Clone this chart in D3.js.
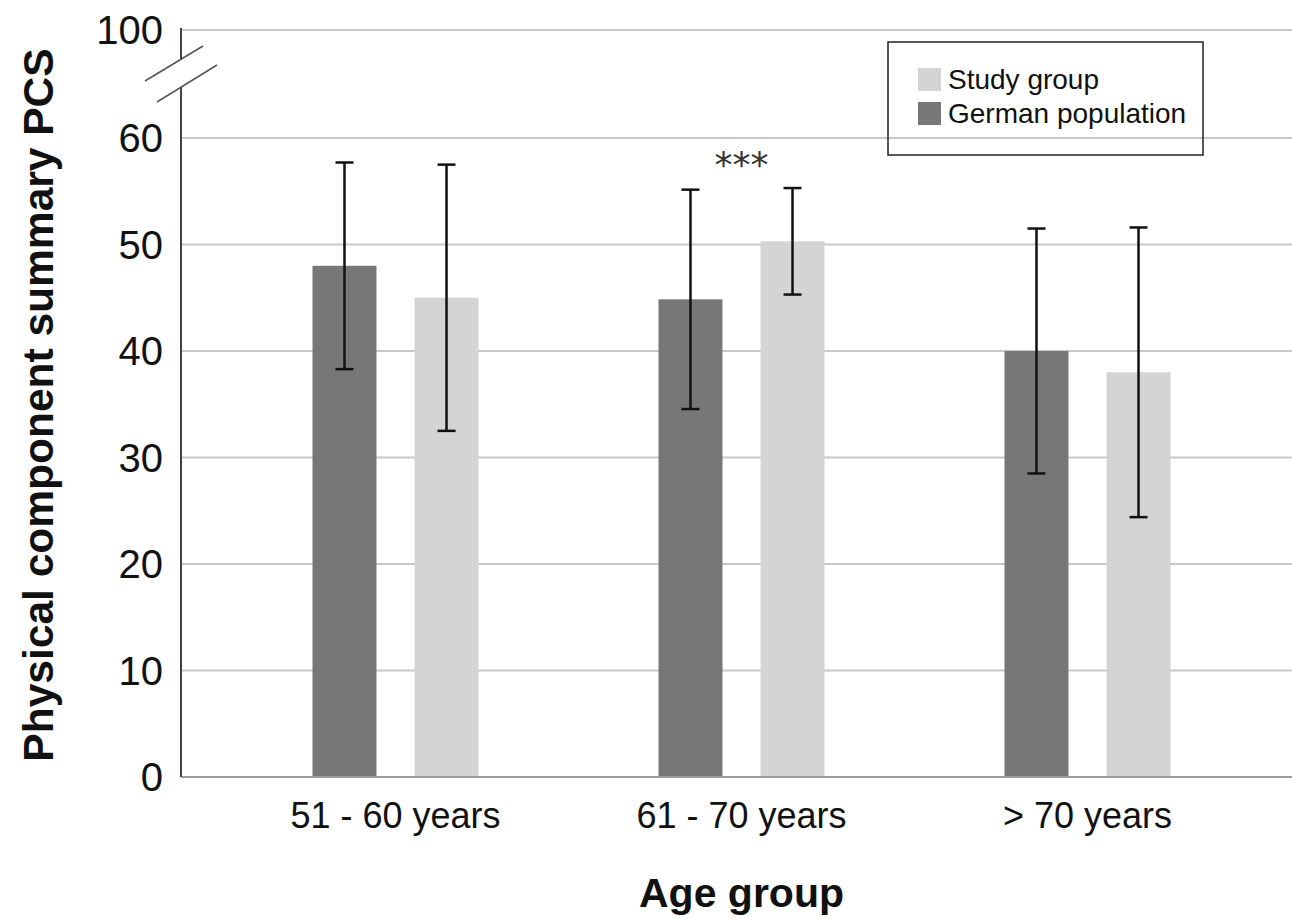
<!DOCTYPE html>
<head>
  <style>
    body {margin: 0; background: #fff;}
    text {font-family: "Liberation Sans", Arial, sans-serif;}
  </style>
</head>
<body>
  <script src="https://cdn.jsdelivr.net/npm/d3@7"></script>
  <script>
    // data
    var ageGroups = ["51 - 60 years", "61 - 70 years", "> 70 years"];
    var seriesNames = ["German population", "Study group"];
    var germanMean = [48.0, 44.85, 40.0];
    var germanSd = [9.7, 10.3, 11.5];
    var studyMean = [45.0, 50.3, 38.0];
    var studySd = [12.5, 5.0, 13.6];
    var yTicks = [0, 10, 20, 30, 40, 50, 60, 100];
    var significance = ["", "***", ""];

    var width = 1292, height = 919;
    var colors = {"German population": "#777777", "Study group": "#d4d4d4"};

    var rows = [];
    ageGroups.forEach(function (g, i) {
      rows.push({group: g, series: "German population", mean: germanMean[i], sd: germanSd[i]});
      rows.push({group: g, series: "Study group", mean: studyMean[i], sd: studySd[i]});
    });

    var svg = d3.select("body").append("svg")
      .attr("width", width)
      .attr("height", height);

    // broken y axis: 0-60 linear, then jump to 100
    var y = d3.scaleLinear().domain([0, 60, 100]).range([777, 138, 30]);
    var x0 = d3.scaleBand().domain(ageGroups).range([222.5, 1260.5]);
    var x1 = d3.scaleBand().domain(seriesNames).range([90, 256]).paddingInner(0.373);

    var axisX = 181, plotRight = 1292;

    // gridlines
    svg.append("g").selectAll("line").data(yTicks.filter(d => d > 0)).enter().append("line")
      .attr("x1", axisX).attr("x2", plotRight)
      .attr("y1", d => y(d)).attr("y2", d => y(d))
      .attr("stroke", "#c8c8c8").attr("stroke-width", 2);

    // y tick labels
    svg.append("g").selectAll("text").data(yTicks).enter().append("text")
      .attr("x", 163).attr("y", d => y(d) + 14)
      .attr("text-anchor", "end")
      .style("font-size", "40px").style("fill", "#111")
      .text(d => d);

    // bars
    svg.append("g").selectAll("rect").data(rows).enter().append("rect")
      .attr("x", d => x0(d.group) + x1(d.series))
      .attr("y", d => y(d.mean))
      .attr("width", x1.bandwidth())
      .attr("height", d => y(0) - y(d.mean))
      .attr("fill", d => colors[d.series]);

    // error bars
    var eb = svg.append("g").selectAll("g").data(rows).enter().append("g")
      .attr("stroke", "#111").attr("stroke-width", 2.5);
    var cx = d => x0(d.group) + x1(d.series) + x1.bandwidth() / 2;
    eb.append("line")
      .attr("x1", cx).attr("x2", cx)
      .attr("y1", d => y(d.mean + d.sd)).attr("y2", d => y(d.mean - d.sd));
    eb.append("line")
      .attr("x1", d => cx(d) - 9).attr("x2", d => cx(d) + 9)
      .attr("y1", d => y(d.mean + d.sd)).attr("y2", d => y(d.mean + d.sd));
    eb.append("line")
      .attr("x1", d => cx(d) - 9).attr("x2", d => cx(d) + 9)
      .attr("y1", d => y(d.mean - d.sd)).attr("y2", d => y(d.mean - d.sd));

    // significance marks
    svg.append("g").selectAll("text").data(ageGroups).enter().append("text")
      .attr("x", d => x0(d) + x0.bandwidth() / 2)
      .attr("y", 177)
      .attr("text-anchor", "middle")
      .style("font-family", "'DejaVu Sans', sans-serif")
      .style("font-size", "36px").style("fill", "#333")
      .text((d, i) => significance[i]);

    // x axis baseline
    svg.append("line")
      .attr("x1", axisX).attr("x2", plotRight)
      .attr("y1", y(0)).attr("y2", y(0))
      .attr("stroke", "#9a9a9a").attr("stroke-width", 2);

    // y axis line with break
    svg.append("line")
      .attr("x1", axisX).attr("x2", axisX).attr("y1", 28).attr("y2", 60)
      .attr("stroke", "#444").attr("stroke-width", 2);
    svg.append("line")
      .attr("x1", axisX).attr("x2", axisX).attr("y1", 87).attr("y2", y(0))
      .attr("stroke", "#444").attr("stroke-width", 2);
    svg.append("line")
      .attr("x1", 145).attr("y1", 81).attr("x2", 203).attr("y2", 46)
      .attr("stroke", "#555").attr("stroke-width", 1.5);
    svg.append("line")
      .attr("x1", 157).attr("y1", 102).attr("x2", 217).attr("y2", 65)
      .attr("stroke", "#555").attr("stroke-width", 1.5);

    // x tick labels
    svg.append("g").selectAll("text").data(ageGroups).enter().append("text")
      .attr("x", d => x0(d) + x0.bandwidth() / 2)
      .attr("y", 828)
      .attr("text-anchor", "middle")
      .style("font-size", "36px").style("fill", "#111")
      .text(d => d);

    // axis titles
    svg.append("text")
      .attr("x", x0(ageGroups[1]) + x0.bandwidth() / 2)
      .attr("y", 907)
      .attr("text-anchor", "middle")
      .style("font-size", "41px").style("font-weight", "bold").style("fill", "#111")
      .text("Age group");

    svg.append("text")
      .attr("transform", "translate(53,405) rotate(-90)")
      .attr("text-anchor", "middle")
      .style("font-size", "42.5px").style("font-weight", "bold").style("fill", "#111")
      .text("Physical component summary PCS");

    // legend
    var legend = svg.append("g");
    legend.append("rect")
      .attr("x", 888).attr("y", 42).attr("width", 315).attr("height", 113)
      .attr("fill", "none").attr("stroke", "#222").attr("stroke-width", 1.5);
    var legendOrder = ["Study group", "German population"];
    var li = legend.selectAll("g.item").data(legendOrder).enter().append("g")
      .attr("transform", (d, i) => "translate(918," + (68 + i * 34) + ")");
    li.append("rect").attr("width", 23).attr("height", 23)
      .attr("fill", d => colors[d]);
    li.append("text").attr("x", 30).attr("y", 21)
      .style("font-size", "28px").style("fill", "#111")
      .text(d => d);
  </script>
</body>
